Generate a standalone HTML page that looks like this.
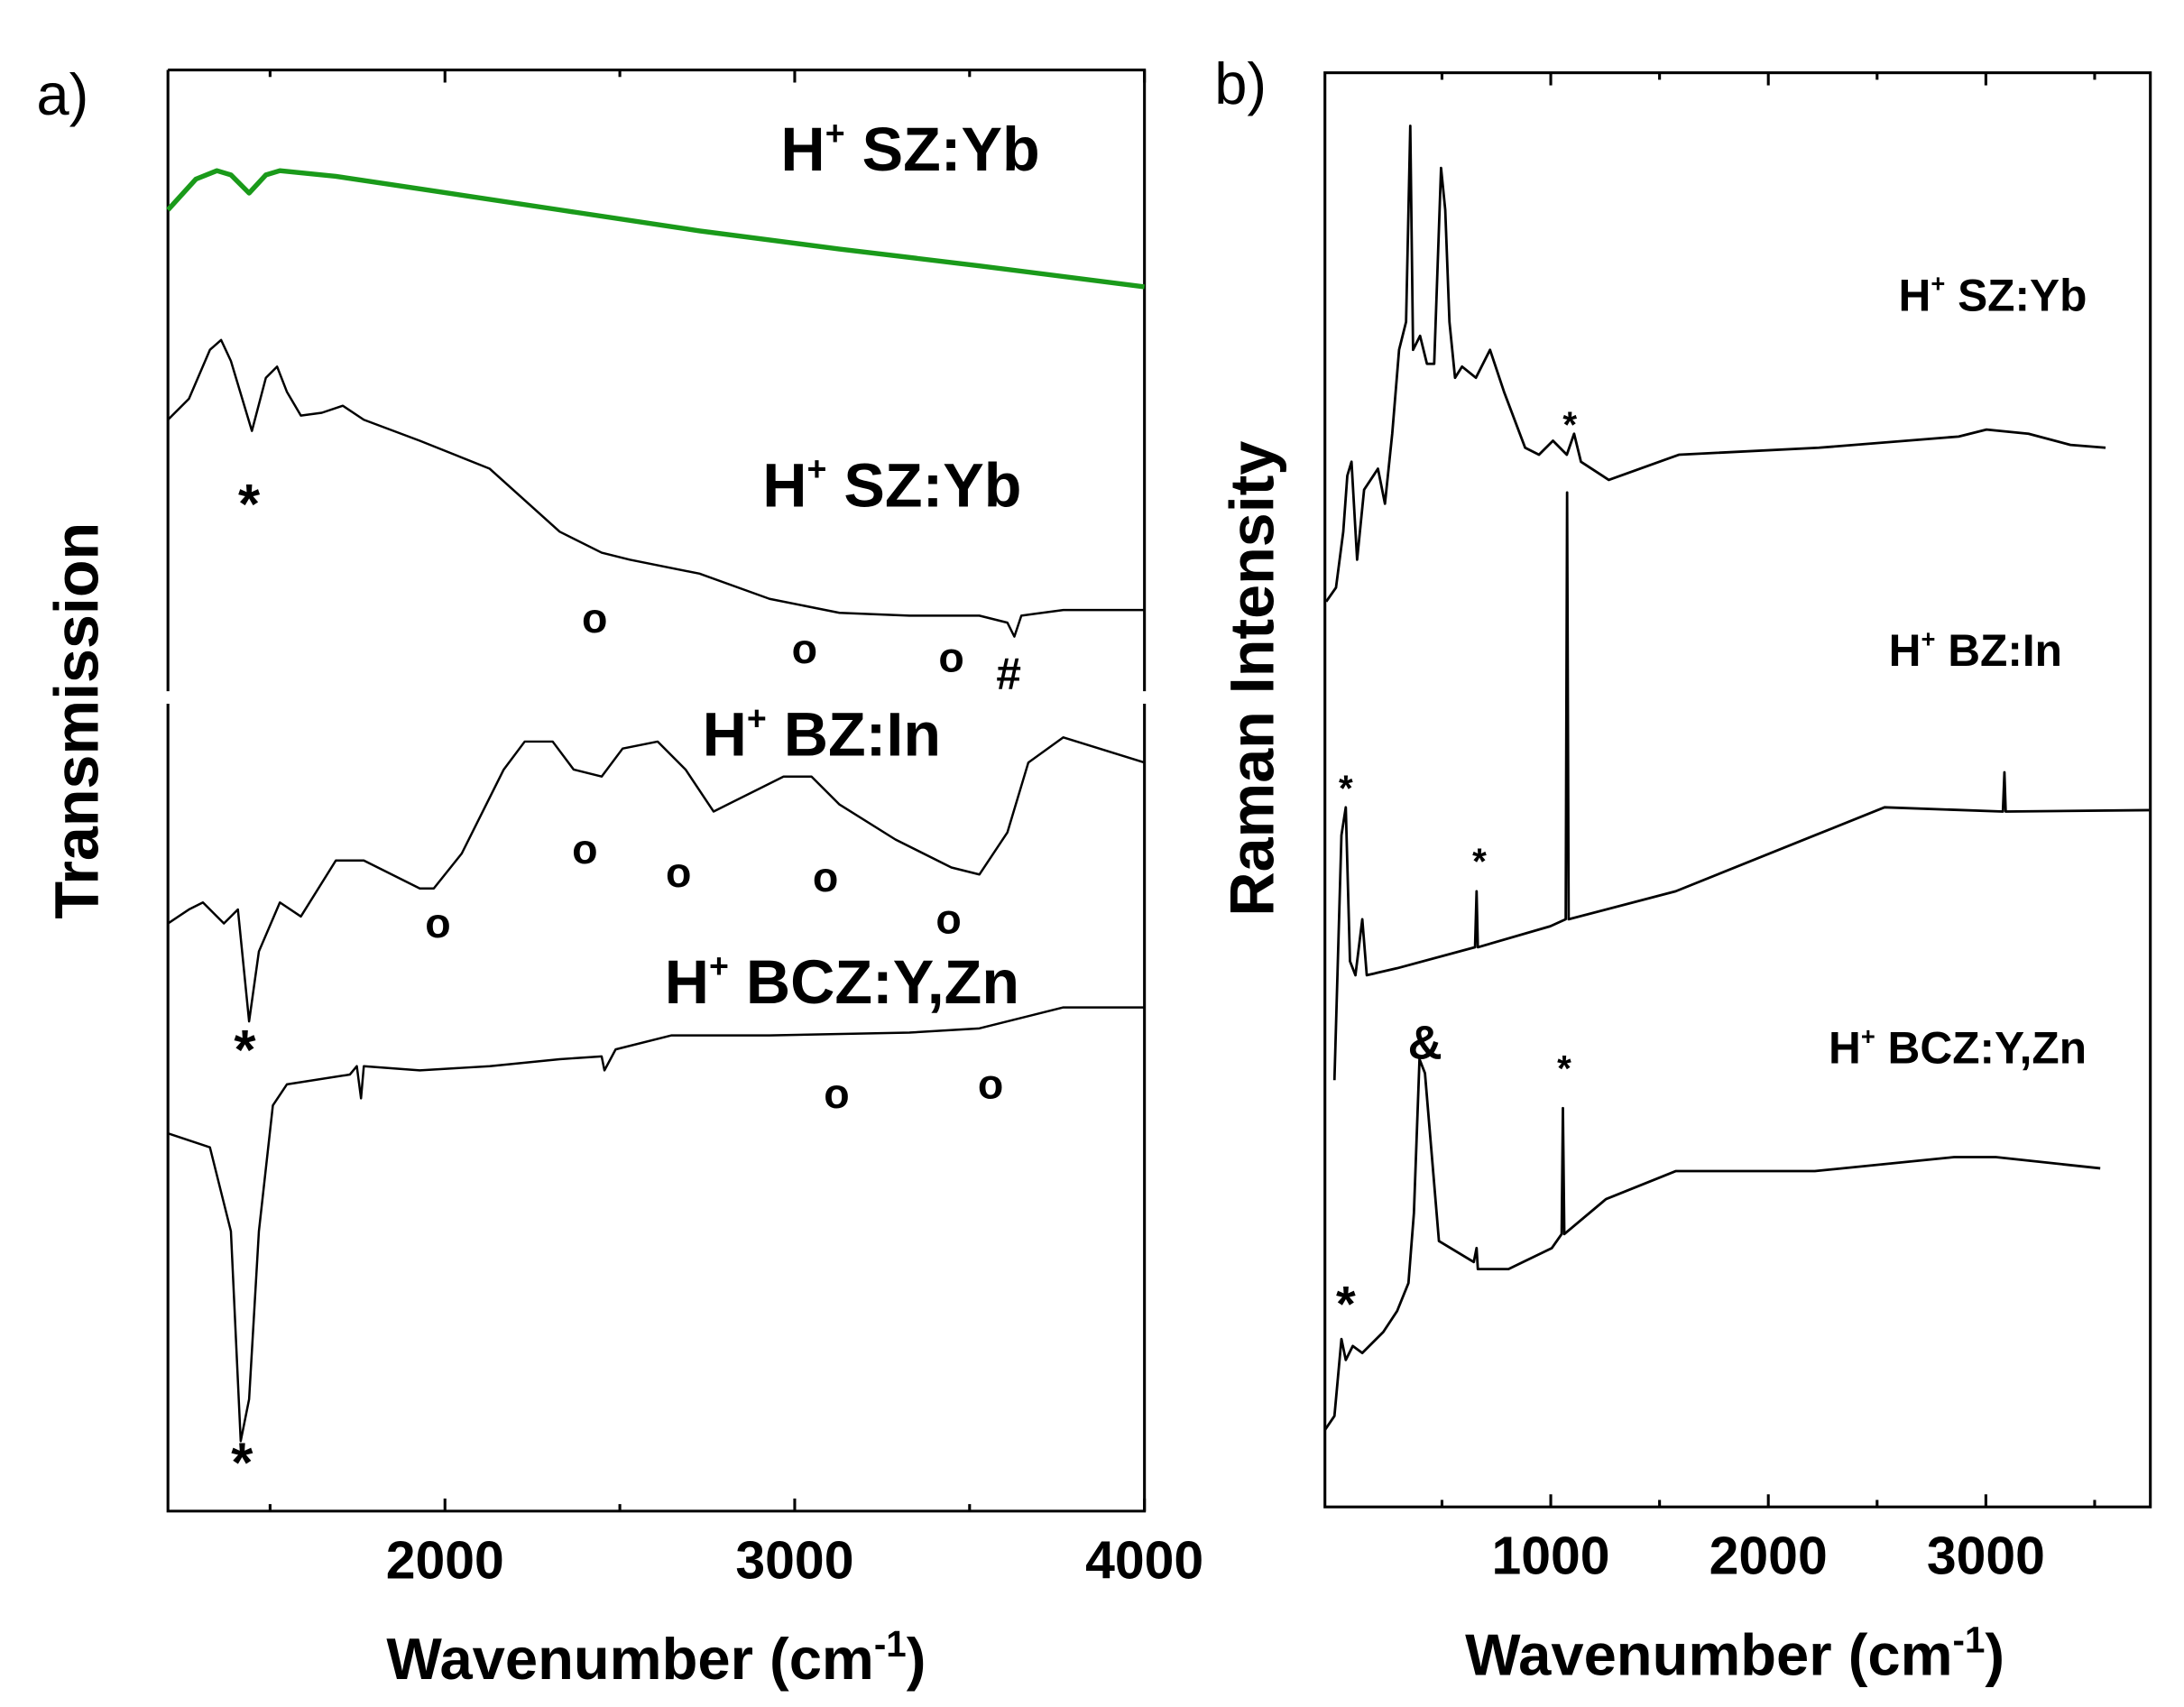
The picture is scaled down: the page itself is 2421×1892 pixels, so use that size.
<!DOCTYPE html>
<html><head><meta charset="utf-8"><style>
html,body{margin:0;padding:0;background:#fff;}
svg{display:block;}
text{font-family:"Liberation Sans",Arial,sans-serif;font-weight:bold;fill:#000;}
text.light{font-weight:normal;}
</style></head><body>
<svg id="fig" width="2421" height="1892" viewBox="0 0 1561 1220" xmlns="http://www.w3.org/2000/svg">
<g id="pa"></g>
<g id="pb"></g>
</svg>
<script>
// ---- Panel a data (wavenumber, transmission a.u.) ----
const aTicks = [2000, 3000, 4000];
const aGreenW = [1208,1288,1348,1388,1440,1488,1528,1688,1928,2328,2728,3128,3528,4000];
const aGreenV = [930,952,958,955,942,955,958,954,945,930,915,902,890,875];
const aSZW = [1208,1268,1328,1360,1388,1448,1488,1520,1548,1588,1648,1708,1768,1928,2128,2328,2448,2528,2728,2928,3128,3328,3528,3608,3628,3648,3768,4000];
const aSZV = [780,795,830,837,822,772,810,818,800,783,785,790,780,765,745,700,685,680,670,652,642,640,640,635,625,640,644,644];
const aBZW = [1208,1268,1308,1368,1408,1440,1468,1528,1588,1688,1768,1928,1968,2048,2168,2228,2308,2368,2448,2508,2608,2688,2768,2888,2968,3048,3128,3288,3448,3528,3608,3668,3768,4000];
const aBZV = [420,430,435,420,430,350,400,435,425,465,465,445,445,470,530,550,550,530,525,545,550,530,500,515,525,525,505,480,460,455,485,535,553,535];
const aBCZW = [1208,1328,1388,1416,1440,1468,1508,1548,1728,1748,1760,1768,1928,2128,2328,2448,2456,2488,2648,2928,3328,3528,3688,3768,4000];
const aBCZV = [270,260,200,50,80,200,290,305,312,318,295,318,315,318,323,325,315,330,340,340,342,345,355,360,360];
const aMarks = [[1440,'*',358,40],[2428,'o',440,30],[3028,'o',462,30],[3448,'o',468,30],[3612,'#',480,32],[2400,'o',605,30],[2668,'o',622,30],[3088,'o',625,30],[1980,'o',658,30],[3440,'o',655,30],[1428,'*',748,40],[3120,'o',780,30],[3560,'o',773,30],[1420,'*',1043,40]];

// ---- Panel b data (Raman shift, intensity a.u.) ----
const bTicks = [1000, 2000, 3000];
const bSZW = [-32,13,46,65,84,110,142,206,238,271,303,335,354,367,399,431,464,496,515,534,560,592,656,721,785,882,946,1010,1074,1107,1139,1267,1589,2232,2875,3003,3196,3389,3550];
const bSZV = [647,657,697,737,747,677,727,742,717,767,827,847,987,827,837,817,817,957,927,847,807,815,807,827,797,757,752,762,752,767,747,734,752,757,765,770,767,759,757];
const bBZW = [6,38,58,77,102,134,154,294,652,659,665,998,1069,1075,1082,1574,2214,2534,3078,3085,3091,3750];
const bBZV = [305,480,500,390,380,420,380,385,400,440,400,415,420,725,420,440,480,500,497,525,497,498];
const bBCZW = [-38,6,38,58,90,134,230,294,346,371,397,422,486,646,659,665,806,1005,1050,1056,1062,1254,1574,2214,2854,3046,3526];
const bBCZV = [55,65,120,105,115,110,125,140,160,210,320,310,190,175,185,170,170,185,195,285,195,220,240,240,250,250,242];
const bMarks = [[58,'*',930,36],[58,'*',562,26],[672,'*',614,26],[1062,'*',762,26],[422,'&',743,34],[1088,'*',302,26]];

const NS = 'http://www.w3.org/2000/svg';
function mk(parent, tag, attrs){const e=document.createElementNS(NS,tag);for(const k in attrs)e.setAttribute(k,attrs[k]);parent.appendChild(e);return e;}

const A = {x0:120,x1:818,y0:50,y1:1080,wmin:1208,wmax:4000};
const ax = w => A.x0 + (w-A.wmin)/(A.wmax-A.wmin)*(A.x1-A.x0);
const ay = v => A.y1 - v;
const B = {x0:947,x1:1537,y0:52,y1:1077,wmin:-38,wmax:3756};
const bx = w => B.x0 + (w-B.wmin)/(B.wmax-B.wmin)*(B.x1-B.x0);
const by = v => B.y1 - v;

function line(g, W, V, sx, sy, color, width, name){
  let d='';for(let i=0;i<W.length;i++){d+=(i?'L':'M')+sx(W[i]).toFixed(1)+','+sy(V[i]).toFixed(1);}
  const p=mk(g,'path',{d:d,fill:'none',stroke:color,'stroke-width':width,'stroke-linejoin':'round'});
  
  
}
function txt(g, x, y, s, size, name, anchor){
  const t=mk(g,'text',{x:x,y:y,'font-size':size,'text-anchor':anchor||'start'});
  t.textContent=s;
  
  
  return t;
}
function label(g,x,y,main,size,name){
  const t=mk(g,'text',{x:x,y:y,'font-size':size});
  
  
  const s1=mk(t,'tspan',{});s1.textContent='H';
  const s2=mk(t,'tspan',{dy:-size*0.42,'font-size':size*0.55});s2.textContent='+';
  const s3=mk(t,'tspan',{dy:size*0.42});s3.textContent=' '+main;
}

// ---- Panel a ----
const ga=document.getElementById('pa');
const fa=mk(ga,'path',{d:`M${A.x0},${A.y0}H${A.x1}V494M${A.x1},503V${A.y1}H${A.x0}V503M${A.x0},494V${A.y0}`,fill:'none',stroke:'#000','stroke-width':2});


for(let w=1500;w<=4000;w+=500){
  const L=(w%1000===0)?9:5;
  mk(ga,'line',{x1:ax(w),x2:ax(w),y1:A.y0,y2:A.y0+L,stroke:'#000','stroke-width':2});
  mk(ga,'line',{x1:ax(w),x2:ax(w),y1:A.y1,y2:A.y1-L,stroke:'#000','stroke-width':2});
}
aTicks.forEach(w=>{txt(ga,ax(w),1128,String(w),38,'x-tick-label-a','middle');});
line(ga,aGreenW,aGreenV,ax,ay,'#1a9a1a',3.5,'spectrum-sz-yb-green');
line(ga,aSZW,aSZV,ax,ay,'#000',1.6,'spectrum-sz-yb');
line(ga,aBZW,aBZV,ax,ay,'#000',1.6,'spectrum-bz-in');
line(ga,aBCZW,aBCZV,ax,ay,'#000',1.6,'spectrum-bcz-y-zn');
aMarks.forEach(m=>{txt(ga,ax(m[0]),m[2]+m[3]*0.4,m[1],m[3],'peak-marker-a','middle');});
label(ga,558,122,'SZ:Yb',44,'label-sz-yb-green');
label(ga,545,362,'SZ:Yb',44,'label-sz-yb');
label(ga,502,540,'BZ:In',44,'label-bz-in');
label(ga,475,717,'BCZ:Y,Zn',44,'label-bcz-y-zn');
txt(ga,26,82,'a)',42,'panel-a-letter').setAttribute('class','light');
const ya=txt(ga,0,0,'Transmission',44,'y-axis-title-a','middle');
ya.setAttribute('transform','translate(70,515) rotate(-90)');
const xa=mk(ga,'text',{x:469,y:1200,'font-size':42,'text-anchor':'middle'});

xa.innerHTML='Wavenumber (cm<tspan dy="-16" font-size="26">-1</tspan><tspan dy="16">)</tspan>';

// ---- Panel b ----
const gb=document.getElementById('pb');
const fb=mk(gb,'rect',{x:B.x0,y:B.y0,width:B.x1-B.x0,height:B.y1-B.y0,fill:'none',stroke:'#000','stroke-width':2});


for(let w=500;w<=3500;w+=500){
  const L=(w%1000===0)?9:5;
  mk(gb,'line',{x1:bx(w),x2:bx(w),y1:B.y0,y2:B.y0+L,stroke:'#000','stroke-width':2});
  mk(gb,'line',{x1:bx(w),x2:bx(w),y1:B.y1,y2:B.y1-L,stroke:'#000','stroke-width':2});
}
bTicks.forEach(w=>{txt(gb,bx(w),1125,String(w),38,'x-tick-label-b','middle');});
line(gb,bSZW,bSZV,bx,by,'#000',1.8,'raman-sz-yb');
line(gb,bBZW,bBZV,bx,by,'#000',1.8,'raman-bz-in');
line(gb,bBCZW,bBCZV,bx,by,'#000',1.8,'raman-bcz-y-zn');
bMarks.forEach(m=>{txt(gb,bx(m[0]),m[2]+m[3]*0.4,m[1],m[3],'peak-marker-b','middle');});
label(gb,1357,222,'SZ:Yb',32,'label-b-sz-yb');
label(gb,1350,476,'BZ:In',32,'label-b-bz-in');
label(gb,1307,760,'BCZ:Y,Zn',32,'label-b-bcz-y-zn');
txt(gb,868,74,'b)',42,'panel-b-letter').setAttribute('class','light');
const yb=txt(gb,0,0,'Raman Intensity',44,'y-axis-title-b','middle');
yb.setAttribute('transform','translate(910,485) rotate(-90)');
const xb=mk(gb,'text',{x:1240,y:1197,'font-size':42,'text-anchor':'middle'});

xb.innerHTML='Wavenumber (cm<tspan dy="-16" font-size="26">-1</tspan><tspan dy="16">)</tspan>';
</script>
</body></html>
